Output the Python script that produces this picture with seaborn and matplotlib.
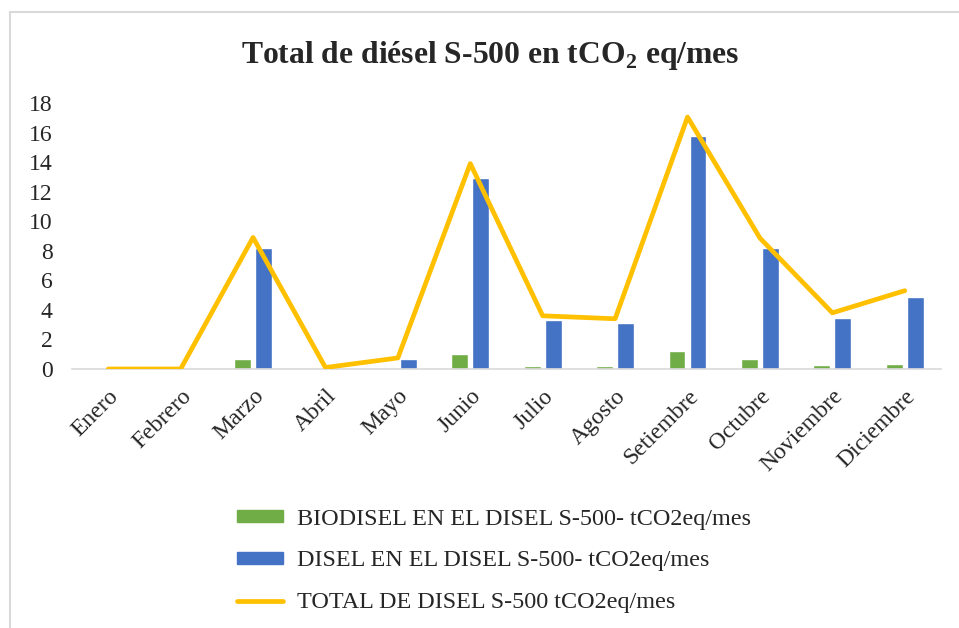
import numpy as np
import pandas as pd
import matplotlib
matplotlib.use("Agg")
import matplotlib.pyplot as plt
import seaborn as sns
from matplotlib.lines import Line2D
from matplotlib.patches import Patch

# data
meses = ["Enero", "Febrero", "Marzo", "Abril", "Mayo", "Junio", "Julio",
         "Agosto", "Setiembre", "Octubre", "Noviembre", "Diciembre"]
biodisel = [0, 0, 0.68, 0, 0.05, 1.0, 0.22, 0.2, 1.25, 0.68, 0.25, 0.36]
disel = [0, 0, 8.2, 0, 0.7, 12.9, 3.3, 3.1, 15.8, 8.2, 3.45, 4.9]
total = [0, 0, 8.9, 0.1, 0.75, 13.9, 3.6, 3.4, 17.05, 8.86, 3.8, 5.3]

lbl_bio = "BIODISEL EN EL DISEL S-500- tCO2eq/mes"
lbl_dis = "DISEL EN EL DISEL S-500- tCO2eq/mes"
lbl_tot = "TOTAL DE DISEL S-500 tCO2eq/mes"

c_bio = "#70AD47"
c_dis = "#4472C4"
c_tot = "#FFC000"

sns.set_style("white")
plt.rcParams['font.family'] = ['Liberation Serif', 'DejaVu Serif']
plt.rcParams['mathtext.fontset'] = 'custom'
plt.rcParams['mathtext.rm'] = 'Liberation Serif'
plt.rcParams['mathtext.bf'] = 'Liberation Serif:bold'

df = pd.DataFrame({
    "Mes": meses * 2,
    "valor": biodisel + disel,
    "serie": [lbl_bio] * 12 + [lbl_dis] * 12,
})

fig = plt.figure(figsize=(9.59, 6.28), dpi=100)
ax = fig.add_axes([0.0751, 0.4124, 0.9812 - 0.0751, 0.836 - 0.4124])

sns.barplot(data=df, x="Mes", y="valor", hue="serie", order=meses,
            palette=[c_bio, c_dis], saturation=1, width=0.58, gap=0.2,
            legend=False, ax=ax, zorder=2)
sns.lineplot(x=np.arange(12), y=total, color=c_tot, linewidth=3.4, ax=ax,
             zorder=3, solid_capstyle="round", solid_joinstyle="round")

ax.set_xlim(-0.5, 11.5)
ax.set_ylim(0, 18)
ax.set_yticks(range(0, 19, 2))
ax.set_xlabel("")
ax.set_ylabel("")
for s in ["top", "right", "left"]:
    ax.spines[s].set_visible(False)
ax.spines["bottom"].set_color("#D9D9D9")
ax.spines["bottom"].set_linewidth(1.2)
ax.tick_params(axis="y", length=0, pad=14, labelsize=17)
ax.tick_params(axis="x", length=0, pad=12, labelsize=17)
ax.set_xticks(range(12))
ax.set_xticklabels(meses, rotation=45, ha="right", rotation_mode="anchor")

fig.text(0.511, 0.9, r"Total de diésel S-500 en tCO$_\mathbf{2}$ eq/mes",
         ha="center", va="baseline", fontsize=22.8, fontweight="bold")

handles = [Patch(color=c_bio), Patch(color=c_dis),
           Line2D([0], [0], color=c_tot, linewidth=3.4, solid_capstyle="round")]
fig.legend(handles, [lbl_bio, lbl_dis, lbl_tot], loc="upper left",
           bbox_to_anchor=(237 / 959, 0.19), frameon=False, fontsize=17.4,
           borderpad=0, borderaxespad=0,
           handlelength=1.9, handleheight=0.4, handletextpad=0.58,
           labelspacing=0.86)

# chart-area border (top and left visible)
fig.add_artist(Line2D([10 / 959, 10 / 959], [0, 1 - 12 / 628],
                      transform=fig.transFigure, color="#D9D9D9", lw=1.5))
fig.add_artist(Line2D([10 / 959, 1], [1 - 12 / 628, 1 - 12 / 628],
                      transform=fig.transFigure, color="#D9D9D9", lw=1.5))

fig.savefig("out.png", dpi=100)
